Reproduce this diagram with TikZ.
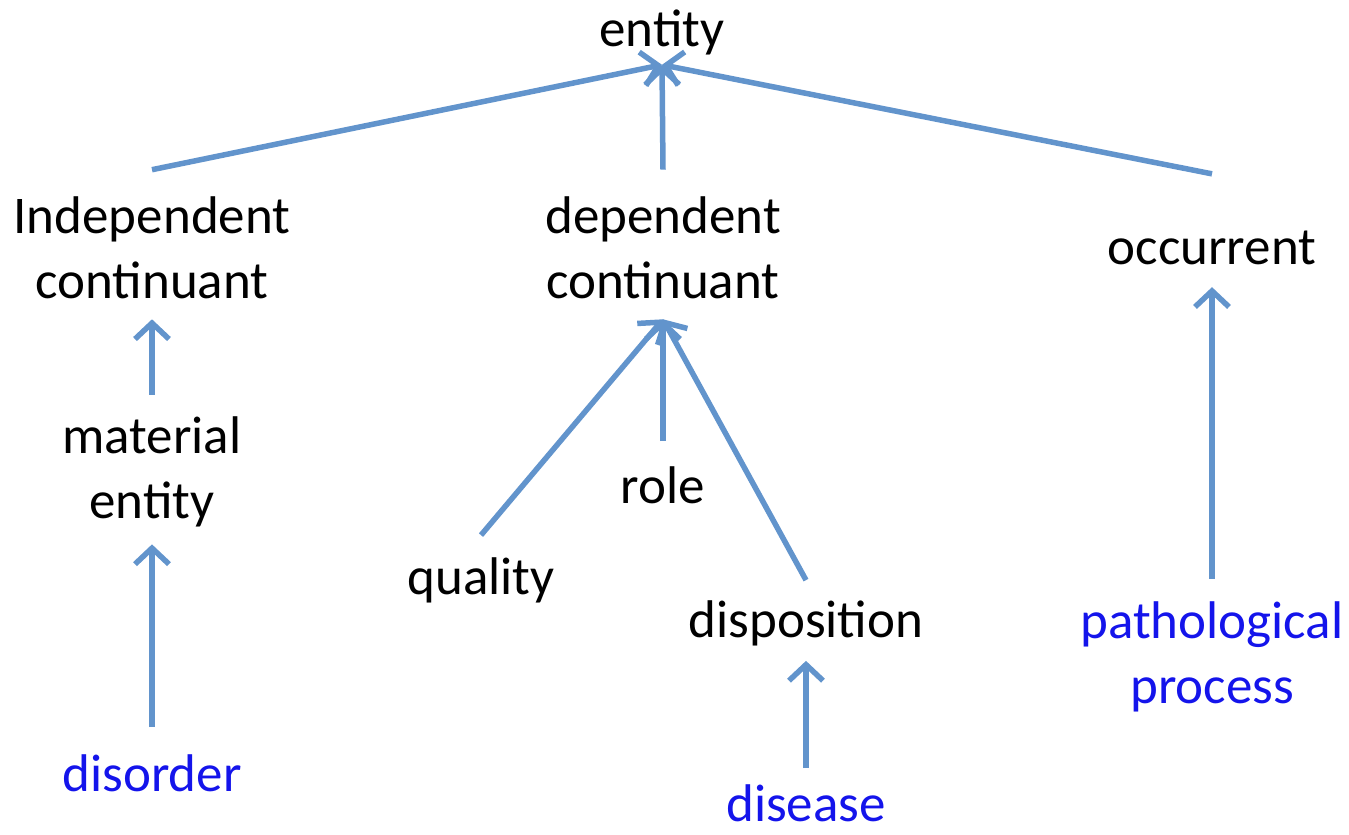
\documentclass[tikz,border=0pt]{standalone}
\usepackage{fontspec}
\setmainfont{Carlito}
\usetikzlibrary{arrows.meta}
\definecolor{linkblue}{RGB}{98,148,204}
\definecolor{termblue}{RGB}{20,20,235}

\begin{document}
\begin{tikzpicture}[x=1pt, y=-1pt,
    term/.style={font=\fontsize{53}{65}\selectfont, align=center, inner sep=0pt},
    leaf/.style={term, text=termblue},
    isa/.style={-{Straight Barb[length=16pt,width=34pt]}, line width=5.5pt, draw=linkblue},
  ]
  \useasboundingbox (0,0) rectangle (1349,835);
  % upper level
  \node[term] (entity) at (662,32)  {entity};
  \node[term] (indep)  at (152,248) {Independent\\continuant};
  \node[term] (dep)    at (663,248) {dependent\\continuant};
  \node[term] (occ)    at (1212,248) {occurrent};
  % lower level
  \node[term] (mat)    at (152,472) {material\\entity};
  \node[term] (role)   at (663,485) {role};
  \node[term] (qual)   at (481,580) {quality};
  \node[term] (disp)   at (806,623) {disposition};
  \node[leaf] (disord) at (152,773) {disorder};
  \node[leaf] (dis)    at (806,803) {disease};
  \node[leaf] (patho)  at (1212,657) {pathological\\process};
  % is-a links
  \draw[isa] ([yshift=27pt]indep.north) -- ([yshift=-10pt]entity.south);
  \draw[isa] ([yshift=27pt]dep.north)   -- ([yshift=-10pt]entity.south);
  \draw[isa] ([yshift=57pt]occ.north)   -- ([yshift=-10pt]entity.south);
  \draw[isa] ([yshift=22pt]mat.north)   -- ([yshift=-20pt]indep.south);
  \draw[isa] ([yshift=27pt]disord.north) -- ([yshift=-17pt]mat.south);
  \draw[isa] ([yshift=22pt]qual.north)  -- ([yshift=-20pt]dep.south);
  \draw[isa] ([yshift=25pt]role.north)  -- ([yshift=-20pt]dep.south);
  \draw[isa] ([yshift=20pt]disp.north)  -- ([yshift=-20pt]dep.south);
  \draw[isa] ([yshift=16pt]dis.north)   -- ([yshift=-15pt]disp.south);
  \draw[isa] ([yshift=23pt]patho.north) -- ([yshift=-22pt]occ.south);
\end{tikzpicture}
\end{document}
